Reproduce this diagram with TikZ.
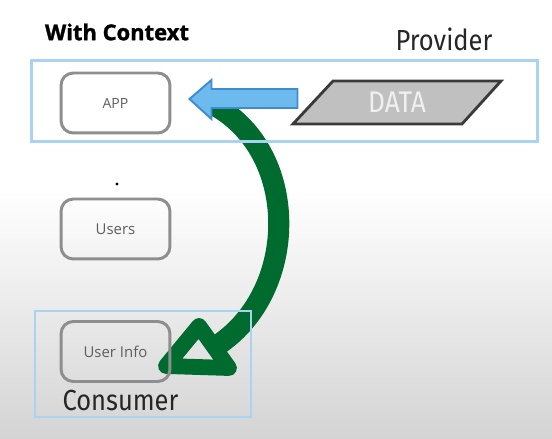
\documentclass[tikz,border=0pt]{standalone}
\usepackage{fontspec}
\usepackage{tikz}
\usetikzlibrary{shapes}
\usetikzlibrary{arrows}
\usetikzlibrary{calc}
\newfontfamily\headfont{Open Sans}
\newfontfamily\titlefont[FakeBold=1.3]{Open Sans Bold}
\newfontfamily\rolefont[FakeStretch=0.88]{Fira Sans}
\definecolor{ctxblue}{HTML}{A8D3F2}
\definecolor{boxgray}{HTML}{8E8E8E}
\definecolor{boxtext}{HTML}{5E5E5E}
\definecolor{flowgreen}{HTML}{006B2F}
\definecolor{arrowblue}{HTML}{6DBAEE}
\definecolor{arrowedge}{HTML}{3F8BCF}
\definecolor{datafill}{HTML}{C0C0C0}
\definecolor{dataedge}{HTML}{3A3A3A}
\tikzset{
  ctx_box/.style = {rectangle, draw=ctxblue, inner sep=0pt},% cadre provider / consumer
  comp_node/.style = {rectangle, rounded corners=7pt, draw=boxgray,
    line width=1.7pt, minimum width=2.18cm, minimum height=1.2cm,
    font=\headfont\fontsize{8.5}{10}\selectfont, text=boxtext},% composant
  role_label/.style = {inner sep=0pt, text=black!85,
    font=\rolefont\fontsize{16.5}{18}\selectfont},% provider, consumer
  data_shape/.style = {draw=dataedge, fill=datafill, line width=1.6pt,
    line join=miter},% bloc data
  green_flow/.style = {draw=flowgreen, line width=12pt},% fleche verte
  green_head/.style = {draw=flowgreen, line width=9pt, line join=round},% pointe creuse
  blue_arrow/.style = {draw=arrowedge, fill=arrowblue, line width=1.1pt,
    line join=miter}% fleche bleue
}

\begin{document}
\begin{tikzpicture}[x=0.02cm, y=-0.02cm]
    \useasboundingbox (0,0) rectangle (552,439);
    \fill[white] (0,0) rectangle (552,192);
    \shade[top color=white, bottom color=black!17] (0,190) rectangle (552,439);

    \coordinate (flow_start) at (212,104);
    \coordinate (flow_end) at (218,345);
    \draw[green_flow] (flow_start) .. controls (300,150) and (300,290) .. (flow_end);
    \draw[green_head] (199,326) -- (166,366) -- (229,368) -- cycle;

    \node [ctx_box, line width=1.7pt, minimum width=10.14cm, minimum height=1.64cm]
      (provider) at (284.5,101) {};
    \node [ctx_box, line width=1.2pt, minimum width=4.32cm, minimum height=2.12cm]
      (consumer) at (143,364) {};

    \node [inner sep=0pt, font=\titlefont\fontsize{12.5}{14}\selectfont]
      (title) at (117,32) {With Context};
    \node [role_label] (provider_lbl) at (444,39) {Provider};
    \node [role_label] (consumer_lbl) at (120.5,401) {Consumer};

    \node [comp_node, font=\headfont\fontsize{8}{10}\selectfont] (app) at (115.5,103) {APP};
    \node [comp_node] (users) at (115.5,229) {Users};
    \node [comp_node] (userinfo) at (115.5,351.5) {User Info};
    \node [circle, fill=black, inner sep=0.7pt] (dot) at (117,184) {};

    \draw[data_shape] (293,124) -- (333,81) -- (501,81) -- (462,124) -- cycle;
    \node [inner sep=0pt, text=white!94!black,
      font=\rolefont\fontsize{17}{19}\selectfont] (data) at (397,102) {DATA};

    \path (app.east) ++(18,-4) coordinate (bluetip);
    \path (bluetip) ++(108,0) coordinate (bluetail);
    \draw[blue_arrow] (bluetail) ++(0,-10) -- ++(-86,0) -- ++(0,-9) -- (bluetip)
      -- ++(22,20) -- ++(0,-11) -- ++(86,0) -- cycle;
\end{tikzpicture}
\end{document}
